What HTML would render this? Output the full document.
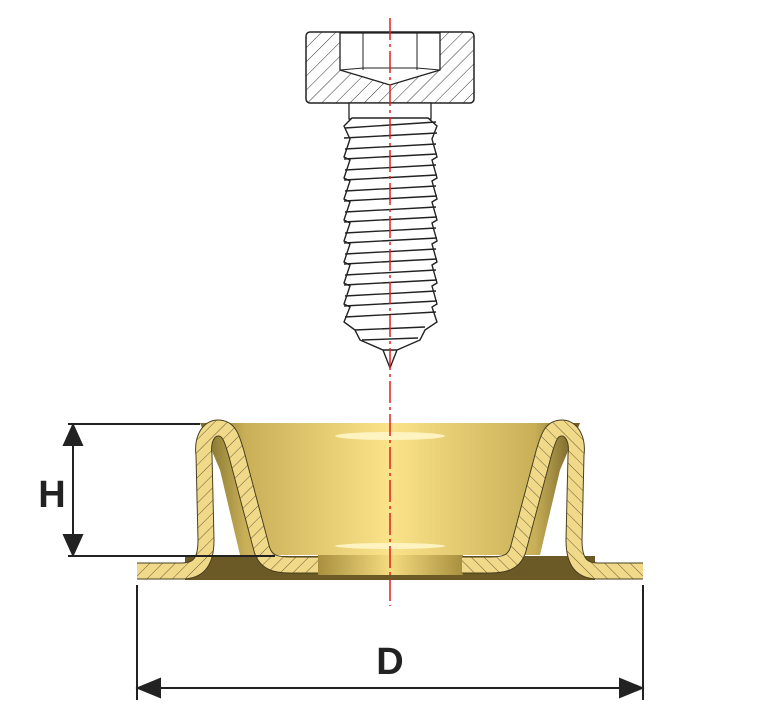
<!DOCTYPE html><html><head><style>body{margin:0;background:#fff}svg{display:block}</style></head><body>
<svg width="768" height="721" viewBox="0 0 768 721" xmlns="http://www.w3.org/2000/svg">
<defs>
<pattern id="h" width="9" height="9" patternUnits="userSpaceOnUse" patternTransform="rotate(45)"><rect width="9" height="9" fill="#f1d98a"/><line x1="0" y1="0" x2="0" y2="9" stroke="#6a5a30" stroke-width="1"/></pattern>
<pattern id="hs" width="10" height="10" patternUnits="userSpaceOnUse" patternTransform="rotate(45)"><rect width="10" height="10" fill="#fff"/><line x1="0" y1="0" x2="0" y2="10" stroke="#333" stroke-width="1"/></pattern>
<linearGradient id="g" x1="0" x2="1"><stop offset="0" stop-color="#7a6a2a"/><stop offset="0.12" stop-color="#c9b058"/><stop offset="0.5" stop-color="#fbe38a"/><stop offset="0.88" stop-color="#c9b058"/><stop offset="1" stop-color="#6b5a22"/></linearGradient>
<linearGradient id="gb" x1="0" x2="1"><stop offset="0" stop-color="#a88f3e"/><stop offset="0.5" stop-color="#f5dc80"/><stop offset="1" stop-color="#a88f3e"/></linearGradient>
</defs>
<path d="M200 423 L580 423 L560 470 L540 555 L240 555 L220 470 Z" fill="url(#g)"/>
<rect x="185" y="556" width="410" height="24" fill="#6b5a25"/>
<rect x="318" y="555" width="145" height="20" fill="url(#gb)"/>
<ellipse cx="390" cy="436" rx="55" ry="4" fill="#fff6c8" opacity="0.9"/>
<ellipse cx="390" cy="546" rx="55" ry="3" fill="#fff6c8" opacity="0.9"/>
<g id="wall">
<path d="M137 571 L182 571 C200 571 206 560 206 540 L204 455 C202 440 208 428 218 428 C230 428 232 440 236 452 L262 550 C266 562 275 565 290 565 L318 565" fill="none" stroke="#4a4020" stroke-width="17" stroke-linejoin="round"/>
<path d="M137 571 L182 571 C200 571 206 560 206 540 L204 455 C202 440 208 428 218 428 C230 428 232 440 236 452 L262 550 C266 562 275 565 290 565 L318 565" fill="none" stroke="url(#h)" stroke-width="15" stroke-linejoin="round"/>
</g>
<use href="#wall" transform="translate(780,0) scale(-1,1)"/>
<rect x="306" y="32" width="168" height="71" rx="4" fill="url(#hs)" stroke="#222" stroke-width="1.5"/>
<path d="M340 33 L440 33 L440 70 L390 85 L340 70 Z" fill="#fff" stroke="#222" stroke-width="1.3"/>
<line x1="363" y1="33" x2="363" y2="70" stroke="#222"/><line x1="417" y1="33" x2="417" y2="70" stroke="#222"/>
<path d="M340 70 L363 68 L390 68 L417 68 L440 70" fill="none" stroke="#222"/>
<rect x="349" y="103" width="82" height="16" fill="#fff" stroke="#222" stroke-width="1.3"/>
<g stroke="#222" stroke-width="1.4" fill="#fff">
<path d="M352 118 L428 118 L437 126 L432 139 L437 157 L432 160 L437 178 L432 181 L437 199 L432 202 L437 220 L432 223 L437 241 L432 244 L437 262 L432 265 L437 283 L432 286 L437 304 L432 307 L437 322 L425 330 L420 340 L397 350 L390 368 L383 350 L360 340 L355 330 L344 322 L350 307 L344 304 L350 286 L344 283 L350 265 L344 262 L350 244 L344 241 L350 223 L344 220 L350 202 L344 199 L350 181 L344 178 L350 160 L344 157 L350 139 L344 126 Z"/>
<g fill="none">
<path d="M345 128 L436 122 M344 138 L437 133 M345 149 L436 144 M344 159 L437 154 M345 170 L436 165 M344 180 L437 175 M345 191 L436 186 M344 201 L437 196 M345 212 L436 207 M344 222 L437 217 M345 233 L436 228 M344 243 L437 238 M345 254 L436 249 M344 264 L437 259 M345 275 L436 270 M344 285 L437 280 M345 296 L436 291 M344 306 L437 301 M345 317 L436 312 M355 330 L425 327 M362 340 L418 338 M383 350 L397 350"/>
</g></g>
<line x1="390" y1="18" x2="390" y2="606" stroke="#e02020" stroke-width="1.5" stroke-dasharray="22 4 3 4"/>
<g stroke="#222" stroke-width="2" fill="#222">
<line x1="68" y1="424" x2="200" y2="424"/><line x1="68" y1="556" x2="275" y2="556"/>
<line x1="73" y1="440" x2="73" y2="540"/>
<path d="M73 425 L64 445 L82 445 Z"/><path d="M73 555 L64 535 L82 535 Z"/>
<line x1="137" y1="585" x2="137" y2="700"/><line x1="643" y1="585" x2="643" y2="700"/>
<line x1="155" y1="688" x2="625" y2="688"/>
<path d="M138 688 L160 679 L160 697 Z"/><path d="M642 688 L620 679 L620 697 Z"/>
</g>
<text x="52" y="507" font-family="Liberation Sans, sans-serif" font-weight="bold" font-size="38" text-anchor="middle" fill="#222">H</text>
<text x="390" y="674" font-family="Liberation Sans, sans-serif" font-weight="bold" font-size="38" text-anchor="middle" fill="#222">D</text>
</svg>
</body></html>
